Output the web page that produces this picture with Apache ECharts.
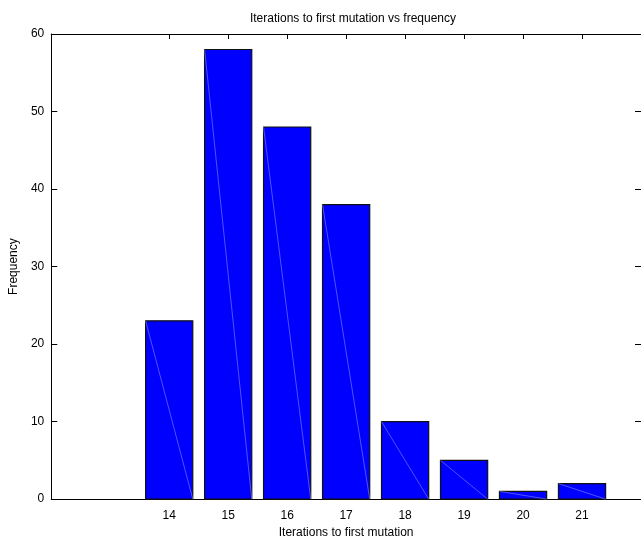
<!DOCTYPE html>
<html>
<head>
<meta charset="utf-8">
<script src="https://cdn.jsdelivr.net/npm/echarts@6/dist/echarts.min.js"></script>
<style>
  html, body { margin: 0; padding: 0; background: #fff; }
  #chart { width: 641px; height: 544px; }
</style>
</head>
<body>
<div id="chart"></div>
<script>
// iterations to first mutation (x) and how often each was seen
const iterations = [14, 15, 16, 17, 18, 19, 20, 21]
const frequency = [23, 58, 48, 38, 10, 5, 1, 2]
const yTicks = [0, 10, 20, 30, 40, 50, 60]

const boxWidth = 0.8
const font = 'Liberation Sans, Arial, sans-serif'

const chart = echarts.init(document.getElementById('chart'))

// gnuplot-style box: blue fill, dark outline, faint seam across the diagonal
const renderBox = (params, api) => {
  const x = api.value(0)
  const y = api.value(1)
  const topLeft = api.coord([x - boxWidth / 2, y])
  const bottomRight = api.coord([x + boxWidth / 2, 0])
  const w = bottomRight[0] - topLeft[0]
  const h = bottomRight[1] - topLeft[1]
  return {
    type: 'group',
    children: [
      {
        type: 'rect',
        shape: { x: topLeft[0], y: topLeft[1], width: w, height: h },
        style: { fill: '#0000ff', stroke: '#111', lineWidth: 1.2 }
      },
      {
        type: 'line',
        shape: { x1: topLeft[0], y1: topLeft[1], x2: bottomRight[0], y2: bottomRight[1] },
        style: { stroke: 'rgba(170,170,255,0.8)', lineWidth: 0.6 }
      }
    ]
  }
}

const frameLine = { show: true, onZero: false, lineStyle: { color: '#000', width: 1 } }

const option = {
  backgroundColor: '#fff',
  animation: false,
  textStyle: { fontFamily: font },
  title: {
    text: 'Iterations to first mutation vs frequency',
    left: 348,
    textAlign: 'center',
    top: 8,
    textStyle: { fontFamily: font, fontSize: 12, fontWeight: 'normal', color: '#000' }
  },
  grid: { left: 50, top: 34, width: 596, bottom: 40 },
  xAxis: [
    {
      type: 'value',
      min: 12,
      max: 22,
      interval: 1,
      position: 'bottom',
      name: 'Iterations to first mutation',
      nameLocation: 'middle',
      nameGap: 26,
      nameTextStyle: { fontFamily: font, fontSize: 12, color: '#000' },
      axisLine: frameLine,
      axisTick: { show: true, inside: true, length: 5, customValues: iterations, lineStyle: { color: '#000' } },
      axisLabel: { customValues: iterations, margin: 11, fontFamily: font, fontSize: 12, color: '#000' },
      splitLine: { show: false }
    },
    {
      type: 'value',
      min: 12,
      max: 22,
      interval: 1,
      position: 'top',
      axisLine: frameLine,
      axisTick: { show: true, inside: true, length: 5, customValues: iterations, lineStyle: { color: '#000' } },
      axisLabel: { show: false },
      splitLine: { show: false }
    }
  ],
  yAxis: [
    {
      type: 'value',
      min: 0,
      max: 60,
      interval: 10,
      position: 'left',
      name: 'Frequency',
      nameLocation: 'middle',
      nameGap: 20,
      nameRotate: 90,
      nameTextStyle: { fontFamily: font, fontSize: 12, color: '#000' },
      axisLine: frameLine,
      axisTick: { show: true, inside: true, length: 6, lineStyle: { color: '#000' } },
      axisLabel: {
        margin: 7,
        fontFamily: font,
        fontSize: 12,
        color: '#000',
        customValues: yTicks
      },
      splitLine: { show: false }
    },
    {
      type: 'value',
      min: 0,
      max: 60,
      interval: 10,
      position: 'right',
      axisLine: frameLine,
      axisTick: { show: true, inside: true, length: 6, lineStyle: { color: '#000' } },
      axisLabel: { show: false },
      splitLine: { show: false }
    }
  ],
  series: [
    {
      type: 'custom',
      xAxisIndex: 0,
      yAxisIndex: 0,
      renderItem: renderBox,
      encode: { x: 0, y: 1 },
      data: iterations.map((it, i) => [it, frequency[i]])
    }
  ]
}

chart.setOption(option)
</script>
</body>
</html>
